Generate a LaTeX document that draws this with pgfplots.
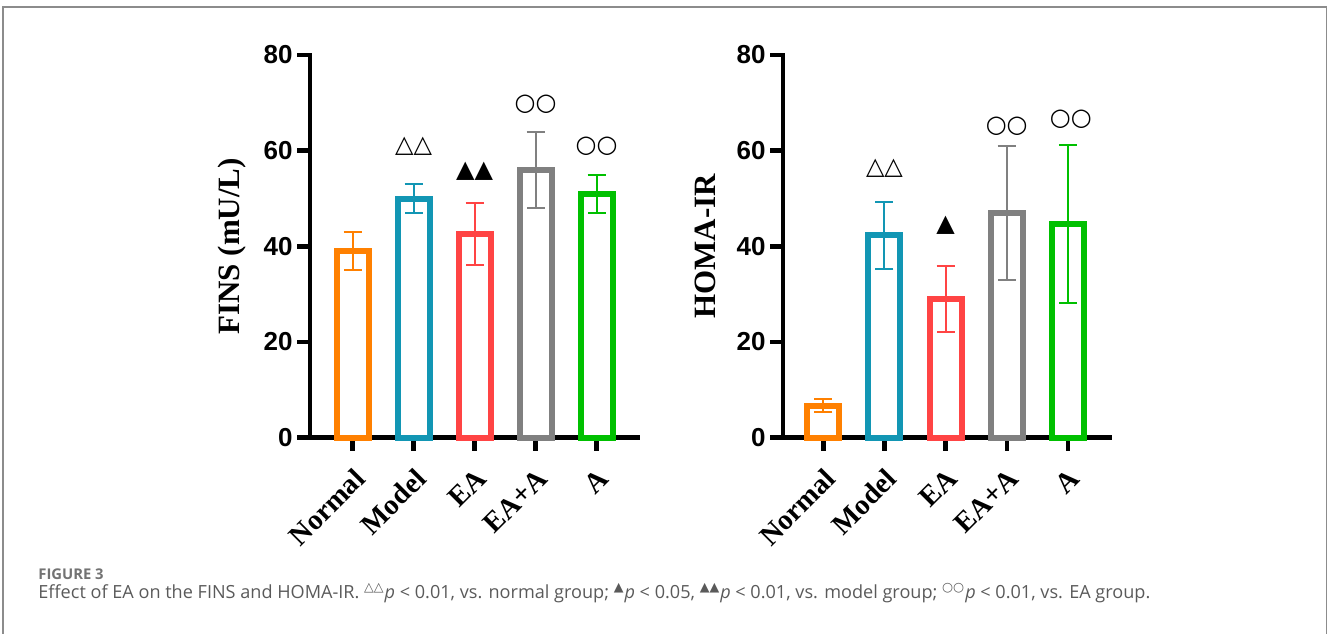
\documentclass[border=0pt]{standalone}
\usepackage{fontspec}
\usepackage{pgfplots}
\pgfplotsset{compat=1.18}
\setmainfont{Liberation Serif}
\newfontfamily\arial{Liberation Sans}
\newfontfamily\dejavu{DejaVu Sans}
\newfontfamily\capfont{Open Sans}
\definecolor{cOrange}{RGB}{255,128,0}
\definecolor{cTeal}{RGB}{18,150,180}
\definecolor{cRed}{RGB}{255,68,68}
\definecolor{cGray}{RGB}{128,128,128}
\definecolor{cGreen}{RGB}{0,192,0}
\definecolor{frameGray}{RGB}{140,140,140}
\definecolor{capGray}{RGB}{90,90,90}
\definecolor{figGray}{RGB}{115,115,115}

\pgfplotsset{
  panel/.style={
    scale only axis,
    anchor=south west,
    height=191.35bp,
    ymin=0, ymax=80,
    axis lines*=left,
    axis line style={line width=2.2bp, black, line cap=rect},
    tick align=outside,
    major tick length=6.5bp,
    every tick/.style={line width=2.2bp, black},
    ytick={0,20,40,60,80},
    yticklabels={0,20,40,60,80},
    yticklabel style={font=\arial\bfseries\fontsize{13bp}{13bp}\selectfont, inner sep=2bp},
    xtick={0,1,2,3,4},
    xticklabels={Normal,Model,EA,EA+A,A},
    xticklabel shift=6.5bp,
    xticklabel style={font=\bfseries\fontsize{14.3bp}{14.3bp}\selectfont, rotate=45, anchor=north east, inner sep=1bp},
    ylabel style={font=\bfseries\fontsize{15.5bp}{15.5bp}\selectfont, at={(axis description cs:-0.238,0.5)}, anchor=center},
    clip=false,
  },
  bar/.style={ybar, bar width=16bp, bar shift=0pt, draw=#1, fill=white, line width=3bp,
    error bars/.cd, y dir=both, y explicit,
    error bar style={line width=1bp, draw=#1},
    error mark options={rotate=90, line width=1bp, mark size=4.5bp, draw=#1}},
  annot/.style={draw=none, mark=none, nodes near coords, point meta=explicit symbolic,
    nodes near coords style={anchor=center, font=\dejavu\fontsize{12bp}{12bp}\selectfont, inner sep=0pt, black}},
}

\begin{document}
\begin{tikzpicture}
\path[use as bounding box] (0,0) rectangle (664bp,317bp);
\draw[frameGray, line width=0.6bp] (1.5bp,0) -- (1.5bp,313.5bp) -- (663.3bp,313.5bp) -- (663.3bp,0);

\begin{axis}[panel, at={(155bp,98.15bp)}, width=164bp, xmin=-0.70, xmax=4.68, ylabel={FINS (mU/L)}]
\addplot[bar=cOrange] coordinates {(0,39) +- (0,4)};
\addplot[bar=cTeal] coordinates {(1,50) +- (0,3)};
\addplot[bar=cRed] coordinates {(2,42.5) +- (0,6.5)};
\addplot[bar=cGray] coordinates {(3,56) +- (0,8)};
\addplot[bar=cGreen] coordinates {(4,51) +- (0,4)};
\addplot[annot] coordinates {(1,60.9)[△△] (2,55.6)[▲▲] (3,69.8)[○○] (4,61)[○○]};
\end{axis}

\begin{axis}[panel, at={(391.5bp,98.15bp)}, width=163.5bp, xmin=-0.66, xmax=4.69, ylabel={HOMA-IR}]
\addplot[bar=cOrange] coordinates {(0,6.7) +- (0,1.3)};
\addplot[bar=cTeal] coordinates {(1,42.3) +- (0,7)};
\addplot[bar=cRed] coordinates {(2,29) +- (0,6.8)};
\addplot[bar=cGray] coordinates {(3,47) +- (0,14)};
\addplot[bar=cGreen] coordinates {(4,44.7) +- (0,16.5)};
\addplot[annot] coordinates {(1,56.4)[△△] (2,44.5)[▲] (3,65.2)[○○] (4.05,66.6)[○○]};
\end{axis}

\node[anchor=base west, inner sep=0pt, text=figGray, font=\capfont\bfseries\fontsize{7.4bp}{7.4bp}\selectfont] at (19bp,27.2bp) {FIGURE 3};
\node[anchor=base west, inner sep=0pt, text=capGray, font=\capfont\fontsize{9.05bp}{9.05bp}\selectfont] at (19bp,17.6bp)
 {Effect of EA on the FINS and HOMA-IR. \textsuperscript{\dejavu △△}\textit{p} < 0.01, vs. normal group; \textsuperscript{\dejavu ▲}\textit{p} < 0.05, \textsuperscript{\dejavu ▲▲}\textit{p} < 0.01, vs. model group; \textsuperscript{\dejavu ○○}\textit{p} < 0.01, vs. EA group.};
\end{tikzpicture}
\end{document}
